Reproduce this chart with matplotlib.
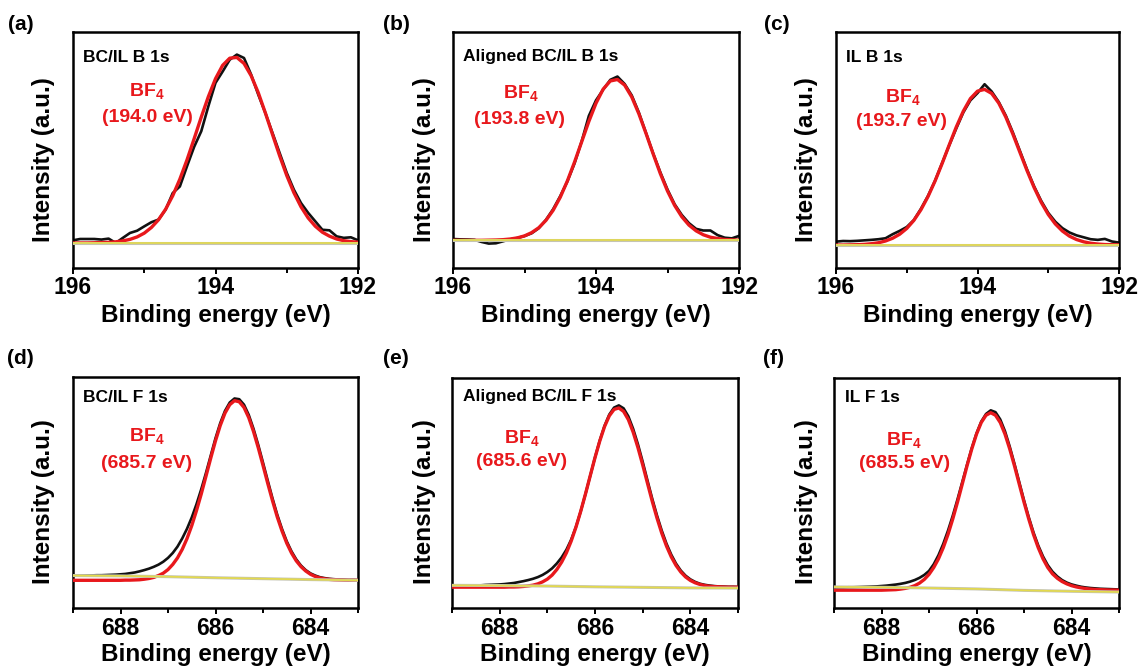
import matplotlib
matplotlib.use('Agg')
import matplotlib.pyplot as plt
from matplotlib.ticker import MultipleLocator

plt.rcParams['font.family'] = ['Liberation Sans', 'DejaVu Sans']
plt.rcParams['font.weight'] = 'bold'
plt.rcParams['mathtext.fontset'] = 'custom'
plt.rcParams['mathtext.rm'] = 'Liberation Sans:bold'
plt.rcParams['mathtext.it'] = 'Liberation Sans:bold'
plt.rcParams['mathtext.bf'] = 'Liberation Sans:bold'

# ---------------- data ----------------
energy_B = [196.0, 195.9, 195.8, 195.7, 195.6, 195.5, 195.4, 195.3, 195.2, 195.1, 195.0,
            194.9, 194.8, 194.7, 194.6, 194.5, 194.4, 194.3, 194.2, 194.1, 194.0,
            193.9, 193.8, 193.7, 193.6, 193.5, 193.4, 193.3, 193.2, 193.1, 193.0,
            192.9, 192.8, 192.7, 192.6, 192.5, 192.4, 192.3, 192.2, 192.1, 192.0]

energy_F = [689.0, 688.9, 688.8, 688.7, 688.6, 688.5, 688.4, 688.3, 688.2, 688.1,
            688.0, 687.9, 687.8, 687.7, 687.6, 687.5, 687.4, 687.3, 687.2, 687.1, 687.0,
            686.9, 686.8, 686.7, 686.6, 686.5, 686.4, 686.3, 686.2, 686.1, 686.0,
            685.9, 685.8, 685.7, 685.6, 685.5, 685.4, 685.3, 685.2, 685.1, 685.0,
            684.9, 684.8, 684.7, 684.6, 684.5, 684.4, 684.3, 684.2, 684.1, 684.0,
            683.9, 683.8, 683.7, 683.6, 683.5, 683.4, 683.3, 683.2, 683.1, 683.0]

# (a) BC/IL B 1s
data_a = [1.4, 2.1, 2.1, 2.1, 1.8, 2.3, 0.0, 2.7, 5.3, 6.5, 8.8,
          11.0, 12.4, 17.7, 26.5, 30.0, 40.7, 51.0, 59.3, 72.6, 85.0,
          91.0, 97.3, 100.0, 98.2, 89.4, 78.8, 69.0, 58.4, 47.8, 37.2,
          28.3, 21.2, 16.0, 11.5, 7.0, 6.7, 3.5, 2.7, 3.0, 1.4]
fit_a = [0.0, 0.0, 0.0, 0.1, 0.2, 0.3, 0.6, 1.1, 1.9, 3.2, 5.2,
         8.2, 12.3, 17.9, 25.1, 33.9, 44.1, 55.3, 66.8, 77.7, 87.2,
         94.3, 98.1, 98.5, 95.3, 88.8, 79.8, 69.0, 57.6, 46.3, 35.8,
         26.7, 19.2, 13.3, 8.9, 5.7, 3.6, 2.1, 1.2, 0.7, 0.4]
base_a_E = [196.0, 192.0]
base_a = [0.0, 0.0]

# (b) Aligned BC/IL B 1s
data_b = [0.8, 0.6, 0.5, 0.3, -1.0, -2.0, -1.8, -0.6, 0.6, 1.4, 2.6,
          4.3, 7.4, 12.5, 19.0, 27.0, 36.0, 47.0, 60.5, 76.0, 85.5,
          92.0, 98.0, 100.0, 95.5, 88.5, 78.0, 65.5, 53.0, 41.5, 31.0,
          22.0, 15.5, 10.5, 7.0, 6.0, 6.0, 3.2, 1.6, 1.2, 2.7]
fit_b = [0.0, 0.0, 0.0, 0.0, 0.0, 0.1, 0.2, 0.4, 0.8, 1.5, 2.7,
         4.7, 7.7, 12.2, 18.3, 26.3, 36.3, 47.8, 60.2, 72.6, 83.7,
         92.3, 97.3, 98.2, 94.8, 87.5, 77.2, 65.2, 52.7, 40.7, 30.1,
         21.3, 14.4, 9.3, 5.8, 3.4, 1.9, 1.1, 0.5, 0.3, 0.1]
base_b_E = [196.0, 192.0]
base_b = [0.0, 0.0]

# (c) IL B 1s
data_c = [2.1, 2.5, 2.4, 2.6, 2.9, 3.2, 3.6, 4.2, 6.7, 8.8, 11.2,
          15.5, 22.5, 30.5, 40.0, 51.0, 62.0, 72.5, 82.5, 90.0, 94.5,
          100.0, 95.5, 89.0, 80.5, 70.0, 58.5, 47.0, 36.5, 27.5, 20.0,
          14.5, 10.5, 7.8, 6.0, 4.8, 3.6, 3.2, 3.8, 2.2, 1.5]
fit_c = [0.0, 0.0, 0.1, 0.2, 0.4, 0.8, 1.4, 2.5, 4.2, 6.7, 10.3,
         15.3, 21.9, 30.1, 39.8, 50.7, 62.2, 73.4, 83.3, 91.1, 95.7,
         96.8, 94.3, 88.3, 79.6, 69.0, 57.6, 46.3, 35.8, 26.6, 19.0,
         13.1, 8.7, 5.5, 3.4, 2.0, 1.1, 0.6, 0.3, 0.2, 0.1]
base_c_E = [196.0, 192.0]
base_c = [0.0, 0.0]

# (d) BC/IL F 1s
data_d = [2.6, 2.6, 2.6, 2.7, 2.7, 2.8, 2.8, 2.9, 3.0, 3.1,
          3.3, 3.5, 3.9, 4.3, 4.9, 5.6, 6.4, 7.4, 8.6, 10.2, 12.3,
          15.0, 18.5, 23.0, 28.3, 34.5, 41.8, 50.0, 59.0, 68.5, 78.0,
          86.3, 93.0, 97.6, 99.8, 99.4, 96.4, 90.8, 83.2, 74.3, 64.6,
          54.7, 45.0, 36.0, 28.2, 21.4, 15.9, 11.5, 8.1, 5.6, 3.8,
          2.6, 1.7, 1.2, 0.8, 0.6, 0.4, 0.3, 0.2, 0.2, 0.1]
fit_d = [0.0, 0.0, 0.0, 0.0, 0.0, 0.0, 0.0, 0.0, 0.0, 0.0,
         0.0, 0.1, 0.1, 0.2, 0.3, 0.6, 1.0, 1.6, 2.6, 3.9, 5.9,
         8.7, 12.3, 17.0, 22.9, 30.0, 38.3, 47.4, 57.2, 67.1, 76.6,
         85.0, 91.8, 96.4, 98.6, 98.0, 94.9, 89.3, 81.7, 72.8, 63.1,
         53.2, 43.7, 34.8, 27.1, 20.4, 15.0, 10.7, 7.5, 5.1, 3.3,
         2.1, 1.3, 0.8, 0.5, 0.3, 0.2, 0.1, 0.0, 0.0, 0.0]
base_F_E = [689.0, 688.0, 687.0, 686.0, 685.0, 684.0, 683.0]
base_d = [2.6, 2.4, 2.0, 1.4, 0.9, 0.4, 0.0]

# (e) Aligned BC/IL F 1s
data_e = [0.9, 1.0, 1.1, 1.2, 1.3, 1.4, 1.5, 1.7, 1.8, 1.9,
          2.0, 2.2, 2.5, 2.8, 3.3, 3.8, 4.4, 5.1, 6.0, 7.2, 8.8,
          10.8, 13.5, 16.8, 21.0, 26.5, 33.5, 42.0, 51.5, 61.5, 71.5,
          80.8, 88.8, 95.0, 98.8, 100.0, 98.4, 94.0, 87.2, 78.8, 69.2,
          59.0, 49.0, 39.8, 31.5, 24.3, 18.3, 13.4, 9.6, 6.8, 4.8,
          3.4, 2.4, 1.8, 1.4, 1.1, 0.9, 0.8, 0.7, 0.7, 0.6]
fit_e = [0.5, 0.5, 0.5, 0.5, 0.5, 0.5, 0.5, 0.5, 0.5, 0.5,
         0.5, 0.5, 0.6, 0.6, 0.7, 0.9, 1.2, 1.6, 2.3, 3.4, 4.9,
         7.1, 10.2, 14.2, 19.3, 25.7, 33.3, 42.0, 51.5, 61.5, 71.4,
         80.5, 88.4, 94.3, 97.8, 98.6, 96.7, 92.2, 85.4, 77.0, 67.5,
         57.5, 47.6, 38.4, 30.1, 23.0, 17.1, 12.4, 8.8, 6.1, 4.2,
         2.9, 2.0, 1.4, 1.0, 0.8, 0.7, 0.6, 0.5, 0.5, 0.5]
base_e = [1.5, 1.4, 1.1, 0.7, 0.4, 0.1, 0.0]

# (f) IL F 1s
data_f = [2.4, 2.5, 2.5, 2.6, 2.6, 2.7, 2.8, 2.9, 3.0, 3.1,
          3.3, 3.5, 3.8, 4.1, 4.5, 5.0, 5.7, 6.6, 7.8, 9.4, 11.6,
          15.3, 20.3, 26.5, 33.8, 42.0, 51.0, 60.5, 70.0, 79.2, 87.3,
          93.8, 98.0, 100.0, 99.0, 95.0, 88.5, 80.0, 70.5, 60.5, 50.5,
          41.2, 32.8, 25.6, 19.6, 14.8, 11.2, 8.6, 6.6, 5.2, 4.2,
          3.5, 2.9, 2.5, 2.2, 2.0, 1.8, 1.7, 1.6, 1.5, 1.4]
fit_f = [1.0, 1.0, 1.0, 1.0, 1.0, 1.0, 1.0, 1.0, 1.0, 1.0,
         1.0, 1.1, 1.2, 1.3, 1.6, 2.0, 2.6, 3.5, 4.9, 6.9, 9.7,
         13.5, 18.3, 24.4, 31.7, 40.2, 49.5, 59.4, 69.4, 78.7, 86.9,
         93.3, 97.3, 98.7, 97.3, 93.3, 86.9, 78.7, 69.4, 59.4, 49.5,
         40.2, 31.7, 24.4, 18.3, 13.5, 10.0, 7.6, 5.8, 4.5, 3.5,
         2.8, 2.3, 1.9, 1.6, 1.4, 1.3, 1.2, 1.1, 1.1, 1.0]
base_f = [2.8, 2.6, 2.2, 1.7, 0.9, 0.4, 0.0]

panel_letters = ['(a)', '(b)', '(c)', '(d)', '(e)', '(f)']
panel_titles = ['BC/IL B 1s', 'Aligned BC/IL B 1s', 'IL B 1s',
                'BC/IL F 1s', 'Aligned BC/IL F 1s', 'IL F 1s']
peak_labels = ['(194.0 eV)', '(193.8 eV)', '(193.7 eV)',
               '(685.7 eV)', '(685.6 eV)', '(685.5 eV)']
species = 'BF$_4$'
xlabel = 'Binding energy (eV)'
ylabel = 'Intensity (a.u.)'

# ---------------- layout ----------------
W, H = 1143, 667
fig = plt.figure(figsize=(W / 100, H / 100), dpi=100)

def fx(px):
    return px / W

def fy(py):
    return 1 - py / H

# axes boxes in pixels: left, right, top, bottom
boxes = [(73, 358, 32, 268), (453, 739, 32, 268), (836, 1119, 32, 268),
         (73, 358, 377, 608), (452, 738, 378, 608), (834, 1119, 378, 608)]
ylims = [(-13.3, 112.0), (-16.9, 127.2), (-14.3, 132.5),
         (-15.2, 111.6), (-10.9, 115.0), (-8.8, 117.8)]

panels = [
    (energy_B, data_a, fit_a, base_a_E, base_a, (196, 192)),
    (energy_B, data_b, fit_b, base_b_E, base_b, (196, 192)),
    (energy_B, data_c, fit_c, base_c_E, base_c, (196, 192)),
    (energy_F, data_d, fit_d, base_F_E, base_d, (689, 683)),
    (energy_F, data_e, fit_e, base_F_E, base_e, (689, 683)),
    (energy_F, data_f, fit_f, base_F_E, base_f, (689, 683)),
]

# text positions (pixels)
letter_pos = [(8, 25), (383, 24), (764, 25), (7, 358), (383, 358), (763, 358)]
title_pos = [(83, 58), (463, 56), (846, 57), (83, 397), (463, 397), (845, 397)]
bf_pos = [(147, 91), (521, 93), (903, 97), (147, 436), (522, 438), (904, 440)]
pk_pos = [(147, 117), (520, 119), (902, 121), (147, 463), (522, 462), (905, 464)]
ylab_pos = [(44, 160), (424, 160), (806, 160), (44, 502), (424, 502), (806, 502)]
xlab_y = [316, 316, 316, 655, 655, 655]

RED = '#e8181c'
YEL = '#e4da4c'

for i, (E, dat, fit, bE, base, xl) in enumerate(panels):
    l, r, t, b = boxes[i]
    ax = fig.add_axes([fx(l), fy(b), (r - l) / W, (b - t) / H])
    ax.plot(E, dat, color='#111111', lw=1.9, zorder=2)
    ax.plot(E, fit, color=RED, lw=2.4, zorder=3)
    ax.plot(bE, base, color='#c4c4b4', lw=2.2, zorder=4)
    ax.plot(bE, base, color=YEL, lw=1.2, zorder=5)
    ax.set_xlim(*xl)
    ax.set_ylim(*ylims[i])
    ax.xaxis.set_major_locator(MultipleLocator(2))
    ax.xaxis.set_minor_locator(MultipleLocator(1))
    ax.set_yticks([])
    ax.tick_params(axis='x', which='major', direction='out', length=4, width=1.4,
                   labelsize=16.5, pad=2 if i < 3 else 2.5)
    ax.tick_params(axis='x', which='minor', direction='out', length=3.5, width=1.4)
    for s in ax.spines.values():
        s.set_linewidth(1.8)

    fig.text(fx(letter_pos[i][0]), fy(letter_pos[i][1]), panel_letters[i],
             fontsize=15, fontweight='bold', ha='left', va='center')
    fig.text(fx(title_pos[i][0]), fy(title_pos[i][1]), panel_titles[i],
             fontsize=12.5, fontweight='bold', ha='left', va='center')
    fig.text(fx(bf_pos[i][0]), fy(bf_pos[i][1]), species, color=RED,
             fontsize=14, fontweight='bold', ha='center', va='center')
    fig.text(fx(pk_pos[i][0]), fy(pk_pos[i][1]), peak_labels[i], color=RED,
             fontsize=14, fontweight='bold', ha='center', va='center')
    fig.text(fx(ylab_pos[i][0]), fy(ylab_pos[i][1]), ylabel, rotation=90,
             fontsize=17.5, fontweight='bold', ha='center', va='center')
    fig.text(fx((l + r) / 2), fy(xlab_y[i]), xlabel,
             fontsize=17.5, fontweight='bold', ha='center', va='center')

fig.savefig('out.png', dpi=100)
